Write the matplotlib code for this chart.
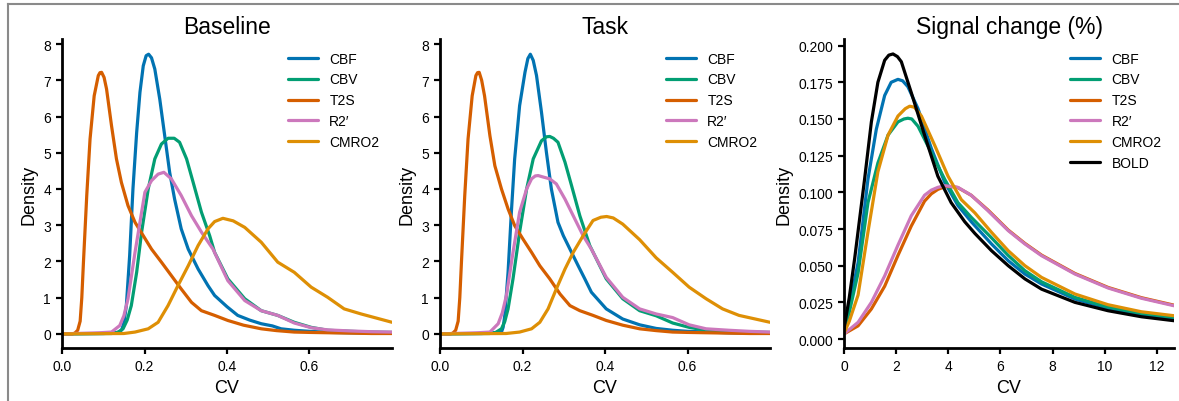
import matplotlib
matplotlib.use("Agg")
import matplotlib.pyplot as plt
from matplotlib.lines import Line2D

plt.rcParams['font.family'] = ['Liberation Sans', 'DejaVu Sans']

# Colores (paleta colorblind de seaborn)
colors = {
    'CBF': '#0173B2',
    'CBV': '#029E73',
    'T2S': '#D55E00',
    "R2\u2032": '#CC78BC',
    'CMRO2': '#DE8F05',
    'BOLD': '#000000',
}

# ---------------- Baseline ----------------
b_cbf_x = [0.0, 0.10, 0.12, 0.140, 0.145, 0.150, 0.156, 0.164, 0.172, 0.181, 0.189, 0.197, 0.204, 0.210,
           0.217, 0.225, 0.237, 0.249, 0.261, 0.273, 0.289, 0.306, 0.330, 0.354, 0.370, 0.400, 0.426,
           0.455, 0.483, 0.510, 0.531, 0.563, 0.60, 0.65, 0.70, 0.75, 0.80]
b_cbf_y = [0.0, 0.01, 0.02, 0.05, 0.12, 0.30, 0.78, 2.16, 4.00, 5.56, 6.67, 7.40, 7.68, 7.72,
           7.62, 7.31, 6.48, 5.47, 4.46, 3.72, 2.90, 2.34, 1.79, 1.33, 1.06, 0.75, 0.51,
           0.38, 0.28, 0.22, 0.14, 0.10, 0.07, 0.04, 0.03, 0.02, 0.02]

b_cbv_x = [0.0, 0.12, 0.135, 0.148, 0.158, 0.168, 0.181, 0.193, 0.209, 0.225, 0.241, 0.257, 0.272,
           0.285, 0.302, 0.318, 0.338, 0.358, 0.370, 0.402, 0.443, 0.483, 0.523, 0.563, 0.604, 0.644,
           0.70, 0.75, 0.80]
b_cbv_y = [0.0, 0.01, 0.04, 0.14, 0.38, 0.78, 1.70, 2.81, 4.00, 4.83, 5.24, 5.40, 5.40,
           5.29, 4.83, 4.18, 3.36, 2.71, 2.25, 1.52, 0.97, 0.64, 0.51, 0.32, 0.18, 0.10,
           0.07, 0.05, 0.04]

b_t2s_x = [0.0, 0.025, 0.031, 0.038, 0.044, 0.048, 0.052, 0.060, 0.068, 0.078, 0.088, 0.092, 0.096,
           0.102, 0.108, 0.120, 0.132, 0.144, 0.160, 0.177, 0.197, 0.217, 0.241, 0.265, 0.289, 0.314,
           0.338, 0.370, 0.402, 0.440, 0.483, 0.52, 0.563, 0.60, 0.65, 0.70, 0.75, 0.80]
b_t2s_y = [0.0, 0.0, 0.02, 0.10, 0.35, 1.00, 1.98, 3.82, 5.38, 6.57, 7.13, 7.21, 7.22,
           7.08, 6.76, 5.75, 4.83, 4.18, 3.54, 3.08, 2.71, 2.34, 1.98, 1.61, 1.24, 0.87,
           0.64, 0.51, 0.37, 0.24, 0.14, 0.09, 0.05, 0.04, 0.03, 0.02, 0.01, 0.01]

b_r2_x = [0.0, 0.09, 0.120, 0.140, 0.150, 0.160, 0.177, 0.193, 0.201, 0.217, 0.233, 0.247, 0.265,
          0.289, 0.314, 0.338, 0.366, 0.402, 0.443, 0.483, 0.523, 0.563, 0.604, 0.644, 0.70, 0.75,
          0.80]
b_r2_y = [0.0, 0.03, 0.05, 0.23, 0.50, 0.97, 2.25, 3.36, 3.91, 4.23, 4.41, 4.46, 4.28,
          3.82, 3.26, 2.81, 2.34, 1.47, 0.92, 0.64, 0.51, 0.30, 0.17, 0.11, 0.08, 0.06,
          0.05]

b_cmro2_x = [0.0, 0.15, 0.177, 0.209, 0.233, 0.257, 0.281, 0.306, 0.330, 0.354, 0.370, 0.390, 0.415,
             0.443, 0.483, 0.523, 0.563, 0.604, 0.644, 0.684, 0.725, 0.80]
b_cmro2_y = [0.0, 0.01, 0.05, 0.14, 0.32, 0.78, 1.33, 1.88, 2.44, 2.90, 3.10, 3.19, 3.12,
             2.94, 2.53, 1.98, 1.70, 1.29, 1.01, 0.69, 0.55, 0.32]

# ---------------- Task ----------------
t_cbf_x = [0.0, 0.10, 0.12, 0.149, 0.153, 0.157, 0.165, 0.173, 0.181, 0.193, 0.206, 0.213, 0.219,
           0.226, 0.234, 0.246, 0.258, 0.270, 0.286, 0.299, 0.315, 0.335, 0.351, 0.367, 0.403, 0.443,
           0.484, 0.524, 0.564, 0.60, 0.65, 0.70, 0.75, 0.80]
t_cbf_y = [0.0, 0.01, 0.02, 0.05, 0.18, 0.50, 1.70, 3.36, 4.83, 6.30, 7.22, 7.60, 7.72,
           7.55, 7.13, 6.12, 5.01, 4.00, 3.08, 2.71, 2.34, 1.88, 1.52, 1.15, 0.69, 0.41,
           0.25, 0.15, 0.10, 0.07, 0.05, 0.03, 0.02, 0.02]

t_cbv_x = [0.0, 0.12, 0.135, 0.149, 0.157, 0.165, 0.177, 0.193, 0.210, 0.226, 0.246, 0.258, 0.266,
           0.275, 0.286, 0.303, 0.319, 0.339, 0.363, 0.403, 0.443, 0.484, 0.524, 0.564, 0.604, 0.645,
           0.70, 0.75, 0.80]
t_cbv_y = [0.0, 0.01, 0.04, 0.14, 0.34, 0.69, 1.52, 2.81, 4.00, 4.83, 5.33, 5.44, 5.45,
           5.40, 5.29, 4.74, 4.09, 3.26, 2.44, 1.52, 0.97, 0.64, 0.50, 0.30, 0.18, 0.10,
           0.07, 0.05, 0.04]

t_t2s_x = [0.0, 0.025, 0.031, 0.038, 0.044, 0.048, 0.052, 0.060, 0.068, 0.078, 0.087, 0.091, 0.095,
           0.101, 0.108, 0.121, 0.133, 0.149, 0.165, 0.181, 0.201, 0.222, 0.242, 0.266, 0.291, 0.315,
           0.339, 0.371, 0.403, 0.443, 0.484, 0.524, 0.564, 0.60, 0.65, 0.70, 0.75, 0.80]
t_t2s_y = [0.0, 0.0, 0.02, 0.10, 0.35, 1.00, 1.98, 3.82, 5.38, 6.57, 7.13, 7.21, 7.22,
           7.00, 6.57, 5.47, 4.64, 4.00, 3.45, 2.99, 2.62, 2.25, 1.88, 1.52, 1.10, 0.78,
           0.64, 0.51, 0.37, 0.24, 0.14, 0.09, 0.05, 0.04, 0.03, 0.02, 0.01, 0.01]

t_r2_x = [0.0, 0.09, 0.121, 0.141, 0.151, 0.161, 0.177, 0.193, 0.210, 0.222, 0.231, 0.238, 0.250,
          0.266, 0.282, 0.303, 0.323, 0.347, 0.367, 0.403, 0.443, 0.484, 0.524, 0.564, 0.604, 0.645,
          0.70, 0.75, 0.80]
t_r2_y = [0.0, 0.03, 0.05, 0.28, 0.58, 1.06, 2.25, 3.36, 4.00, 4.28, 4.36, 4.37, 4.33,
          4.28, 4.14, 3.72, 3.26, 2.71, 2.34, 1.56, 1.01, 0.69, 0.55, 0.45, 0.25, 0.14,
          0.10, 0.07, 0.05]

t_cmro2_x = [0.0, 0.16, 0.193, 0.222, 0.242, 0.262, 0.282, 0.303, 0.323, 0.347, 0.371, 0.390, 0.404,
             0.420, 0.443, 0.484, 0.524, 0.564, 0.604, 0.645, 0.685, 0.725, 0.80]
t_cmro2_y = [0.0, 0.01, 0.05, 0.14, 0.32, 0.69, 1.24, 1.79, 2.25, 2.71, 3.13, 3.22, 3.24,
             3.20, 3.03, 2.60, 2.10, 1.70, 1.29, 0.97, 0.69, 0.51, 0.32]

# ---------------- Signal change (%) ----------------
s_cbf_x = [0.0, 0.2, 0.54, 0.92, 1.24, 1.56, 1.81, 2.07, 2.25, 2.45, 2.84, 3.35, 3.86, 4.37, 4.88,
           5.66, 6.30, 6.94, 7.58, 8.86, 10.13, 11.41, 12.66]
s_cbf_y = [0.006, 0.022, 0.052, 0.109, 0.143, 0.166, 0.175, 0.177, 0.176, 0.172, 0.157, 0.130, 0.107,
           0.091, 0.080, 0.0648, 0.0534, 0.0443, 0.0375, 0.0273, 0.0209, 0.0166, 0.0141]

s_cbv_x = [0.0, 0.2, 0.54, 0.92, 1.30, 1.69, 2.07, 2.30, 2.45, 2.60, 2.84, 3.35, 3.86, 4.37, 4.88,
           5.66, 6.30, 6.94, 7.58, 8.86, 10.13, 11.41, 12.66]
s_cbv_y = [0.006, 0.018, 0.045, 0.093, 0.120, 0.139, 0.148, 0.1500, 0.1505, 0.150, 0.145, 0.127, 0.109,
           0.093, 0.083, 0.069, 0.057, 0.0466, 0.039, 0.0284, 0.0218, 0.0175, 0.0148]

s_t2s_x = [0.0, 0.54, 1.05, 1.56, 2.07, 2.58, 3.09, 3.35, 3.60, 3.90, 4.20, 4.37, 4.88, 5.52, 6.30,
           6.94, 7.58, 8.86, 10.13, 11.41, 12.66]
s_t2s_y = [0.0035, 0.009, 0.0205, 0.036, 0.057, 0.077, 0.094, 0.0990, 0.102, 0.104, 0.1038, 0.1032,
           0.098, 0.088, 0.0743, 0.0652, 0.0572, 0.0447, 0.0352, 0.0282, 0.0231]

s_r2_x = [0.0, 0.54, 1.05, 1.56, 2.07, 2.58, 3.09, 3.35, 3.60, 3.86, 4.10, 4.37, 4.88, 5.52, 6.30,
          6.94, 7.58, 8.86, 10.13, 11.41, 12.66]
s_r2_y = [0.0035, 0.0114, 0.025, 0.043, 0.064, 0.084, 0.098, 0.1015, 0.1034, 0.1045, 0.104, 0.1034,
          0.098, 0.0875, 0.0739, 0.0648, 0.0568, 0.0443, 0.0348, 0.0278, 0.0227]

s_cmro2_x = [0.0, 0.2, 0.54, 0.92, 1.30, 1.69, 2.07, 2.35, 2.52, 2.70, 2.97, 3.48, 3.99, 4.50, 5.02,
             5.66, 6.30, 6.94, 7.58, 8.86, 10.13, 11.41, 12.66]
s_cmro2_y = [0.004, 0.012, 0.030, 0.073, 0.114, 0.139, 0.152, 0.157, 0.1587, 0.158, 0.152, 0.132, 0.111,
             0.095, 0.086, 0.0727, 0.0602, 0.050, 0.042, 0.0307, 0.0234, 0.0186, 0.0159]

s_bold_x = [0.0, 0.2, 0.41, 0.60, 0.79, 1.05, 1.30, 1.56, 1.72, 1.88, 2.05, 2.20, 2.58, 3.09, 3.60,
            4.11, 4.63, 5.02, 5.66, 6.30, 6.94, 7.58, 8.86, 10.13, 11.41, 12.66]
s_bold_y = [0.007, 0.028, 0.055, 0.082, 0.109, 0.148, 0.175, 0.190, 0.1935, 0.1943, 0.1925, 0.189,
            0.168, 0.139, 0.111, 0.093, 0.080, 0.072, 0.0602, 0.050, 0.041, 0.034, 0.025, 0.0193,
            0.0152, 0.0125]

baseline = [('CBF', b_cbf_x, b_cbf_y), ('CBV', b_cbv_x, b_cbv_y), ('T2S', b_t2s_x, b_t2s_y),
            ("R2\u2032", b_r2_x, b_r2_y), ('CMRO2', b_cmro2_x, b_cmro2_y)]
task = [('CBF', t_cbf_x, t_cbf_y), ('CBV', t_cbv_x, t_cbv_y), ('T2S', t_t2s_x, t_t2s_y),
        ("R2\u2032", t_r2_x, t_r2_y), ('CMRO2', t_cmro2_x, t_cmro2_y)]
signal = [('CBF', s_cbf_x, s_cbf_y), ('CBV', s_cbv_x, s_cbv_y), ('T2S', s_t2s_x, s_t2s_y),
          ("R2\u2032", s_r2_x, s_r2_y), ('CMRO2', s_cmro2_x, s_cmro2_y), ('BOLD', s_bold_x, s_bold_y)]

W, H = 1179, 402


# Convierte una caja en pixeles a coordenadas de figura
def px_box(left, right, top, bottom):
    return [left / W, 1 - bottom / H, (right - left) / W, (bottom - top) / H]


# Dibuja un panel de densidades
def draw_panel(ax, curves, title, xlim, ylim, xticks, yticks, yfmt):
    for name, xs, ys in curves:
        ax.plot(xs, ys, color=colors[name], lw=2.3, label=name,
                solid_joinstyle='round', solid_capstyle='round')
    ax.set_xlim(*xlim)
    ax.set_ylim(*ylim)
    ax.set_xticks(xticks)
    ax.set_yticks(yticks)
    ax.set_yticklabels([yfmt.format(v) for v in yticks])
    ax.set_title(title, fontsize=16.5, pad=4.5)
    ax.set_xlabel('CV', fontsize=13)
    ax.set_ylabel('Density', fontsize=13)
    for side in ['top', 'right']:
        ax.spines[side].set_visible(False)
    for side in ['left', 'bottom']:
        ax.spines[side].set_linewidth(2.0)
    ax.tick_params(width=1.6, length=4.5, labelsize=10)
    ax.legend(loc='upper right', frameon=False, fontsize=10, handlelength=2.2)


fig = plt.figure(figsize=(W / 100, H / 100), dpi=100)

ax1 = fig.add_axes(px_box(62, 392, 40, 349))
draw_panel(ax1, baseline, 'Baseline', (0, 0.8), (-0.39, 8.14),
           [0.0, 0.2, 0.4, 0.6], list(range(0, 9)), '{:d}')

ax2 = fig.add_axes(px_box(440, 770, 40, 349))
draw_panel(ax2, task, 'Task', (0, 0.8), (-0.39, 8.14),
           [0.0, 0.2, 0.4, 0.6], list(range(0, 9)), '{:d}')

ax3 = fig.add_axes(px_box(844, 1174, 40, 349))
draw_panel(ax3, signal, 'Signal change (%)', (0, 12.66), (-0.0061, 0.2045),
           [0, 2, 4, 6, 8, 10, 12], [i * 0.025 for i in range(9)], '{:.3f}')

# Marco gris de la figura (arriba e izquierda)
fig.add_artist(Line2D([8 / W, 8 / W], [0, 1 - 5 / H], color='#8a8a8a', lw=1.5, transform=fig.transFigure))
fig.add_artist(Line2D([8 / W, 1], [1 - 5 / H, 1 - 5 / H], color='#8a8a8a', lw=1.5, transform=fig.transFigure))

plt.savefig('out.png', dpi=100)
plt.close('all')
